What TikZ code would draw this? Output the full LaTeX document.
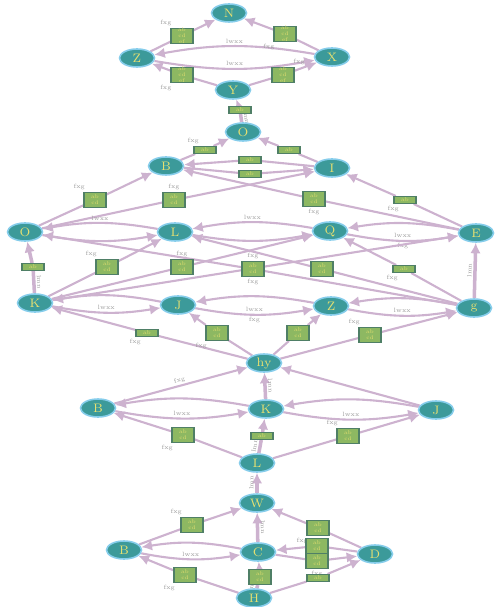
\documentclass[tikz,border=0pt]{standalone}
\usetikzlibrary{arrows.meta,shapes.geometric}
\definecolor{stfill}{HTML}{3C9A9A}
\definecolor{stline}{HTML}{86CDEB}
\definecolor{sttext}{HTML}{E6E070}
\definecolor{rlfill}{HTML}{8DB862}
\definecolor{rlline}{HTML}{4F7F66}
\definecolor{edcol}{HTML}{CDB2CF}
\definecolor{lbcol}{HTML}{9A9A9A}
\pgfdeclarelayer{edges}
\pgfsetlayers{edges,main}

\begin{document}
\begin{tikzpicture}[x=0.02cm,y=-0.02cm,
    state/.style ={ellipse, fill=stfill, draw=stline, line width=0.9pt, minimum width=0.7cm, minimum height=0.36cm, inner sep=0pt, text=sttext, font=\scriptsize},
    rule/.style ={rectangle, fill=rlfill, draw=rlline, line width=0.6pt, minimum width=0.44cm, minimum height=0.3cm, inner sep=0pt, text=sttext, font=\fontsize{3}{3.4}\selectfont, align=center},
    flat/.style ={rule, minimum height=0.14cm},
    edge/.style ={draw=edcol, line width=1.2pt, -{Latex[length=6pt,width=6pt]}},
    vedge/.style ={edge, line width=2pt},
    elbl/.style ={font=\fontsize{3.5}{4}\selectfont, text=lbcol, inner sep=1pt}]
   \useasboundingbox (0,0) rectangle (496,607);

   % states
   \node[state] (N1) at (229,13)  {N};
   \node[state] (NL) at (137,58)  {Z};
   \node[state] (NR) at (332,57)  {X};
   \node[state] (N4) at (233,90)  {Y};
   \node[state] (O)  at (243,132) {O};
   \node[state] (L)  at (166,166) {B};
   \node[state] (R)  at (332,168) {I};
   \node[state] (C1) at (25,232)  {O};
   \node[state] (C2) at (175,232) {L};
   \node[state] (C3) at (330,231) {Q};
   \node[state] (C4) at (476,233) {E};
   \node[state] (D1) at (35,303)  {K};
   \node[state] (D2) at (178,305) {J};
   \node[state] (D3) at (331,306) {Z};
   \node[state] (D4) at (474,308) {g};
   \node[state] (E)  at (264,363) {hy};
   \node[state] (F1) at (98,408)  {B};
   \node[state] (F2) at (266,409) {K};
   \node[state] (F3) at (436,410) {J};
   \node[state] (G)  at (257,463) {L};
   \node[state] (H)  at (257,503) {W};
   \node[state] (I1) at (124,550) {B};
   \node[state] (I2) at (258,552) {C};
   \node[state] (I3) at (375,554) {D};
   \node[state] (J)  at (254,598) {H};

   % rules
   \node[rule,label={[elbl]above left:fxg}]  (bNL1) at (182,36)  {ab\\cd\\ef};
   \node[rule,label={[elbl]below left:fxg}]  (bNR1) at (285,34)  {ab\\cd\\ef};
   \node[rule,label={[elbl]below left:fxg}]  (bN4L) at (182,75)  {ab\\cd\\ef};
   \node[rule,label={[elbl]above right:fxg}] (bN4R) at (283,75)  {ab\\cd\\ef};
   \node[flat] (bO)   at (240,110) {ab};
   \node[flat,label={[elbl]above left:fxg}]  (bLO)  at (205,150) {ab};
   \node[flat] (bRO)  at (289,150) {ab};
   \node[flat] (bRL)  at (250,160) {ab};
   \node[flat] (bLR)  at (250,174) {ab};
   \node[rule,label={[elbl]above left:fxg}]  (bC1L) at (95,200)  {ab\\cd};
   \node[rule,label={[elbl]above:fxg}]       (bC1R) at (174,200) {ab\\cd};
   \node[rule,label={[elbl]below:fxg}]       (bC4L) at (314,199) {ab\\cd};
   \node[flat,label={[elbl]below left:fxg}]  (bC4R) at (405,200) {ab};
   \node[flat] (bD1C1) at (33,267) {ab};
   \node[rule,label={[elbl]above left:fxg}]  (bD1C2) at (107,267) {ab\\cd};
   \node[rule,label={[elbl]above:fxg}]       (bD1C3) at (182,267) {ab\\cd};
   \node[rule,label={[elbl]above:fxg},label={[elbl]below:fxg}] (bX) at (253,269) {ab\\cd};
   \node[rule] (bD4C2) at (322,269) {ab\\cd};
   \node[flat,label={[elbl]below left:fxg}]  (bD4C3) at (404,269) {ab};
   \node[flat,label={[elbl]below left:fxg}]  (bED1) at (147,333) {ab};
   \node[rule,label={[elbl]below left:fxg}]  (bED2) at (217,333) {ab\\cd};
   \node[rule] (bED3) at (298,333) {ab\\cd};
   \node[rule,label={[elbl]above left:fxg}]  (bED4) at (370,335) {ab\\cd};
   \node[rule,label={[elbl]below left:fxg}]  (bGF1) at (183,435) {ab\\cd};
   \node[flat] (bGF2) at (262,436) {ab};
   \node[rule,label={[elbl]above left:fxg}]  (bGF3) at (348,436) {ab\\cd};
   \node[rule,label={[elbl]above left:fxg}]  (bI1H) at (192,525) {ab\\cd};
   \node[rule,label={[elbl]below left:fxg}]  (bI3H) at (318,528) {ab\\cd};
   \node[rule] (bI3I2) at (317,546) {ab\\cd};
   \node[rule,label={[elbl]below:fxg}]       (bI2I3) at (317,561) {ab\\cd};
   \node[rule,label={[elbl]below left:fxg}]  (bJI1) at (185,575) {ab\\cd};
   \node[rule] (bJI2) at (260,577) {ab\\cd};
   \node[flat] (bJI3) at (318,578) {ab};

   \begin{pgfonlayer}{edges}
   % top diamond
   \draw[edge] (NL) -- (bNL1) -- (N1);
   \draw[edge] (NR) -- (bNR1) -- (N1);
   \draw[edge] (N4) -- (bN4L) -- (NL);
   \draw[edge] (N4) -- (bN4R) -- (NR);
   \draw[edge] (NR) to[bend right=10] node[elbl,above]{lwxx} (NL);
   \draw[edge] (NL) to[bend right=10] node[elbl,above]{lwxx} (NR);
   \draw[vedge] (O) -- node[elbl,sloped,above]{lmn} (bO) -- (N4);

   \draw[edge] (L) -- (bLO) -- (O);
   \draw[edge] (R) -- (bRO) -- (O);
   \draw[edge] (R) -- (bRL) -- (L);
   \draw[edge] (L) -- (bLR) -- (R);

   \draw[edge] (C1) -- (bC1L) -- (L);
   \draw[edge] (C1) -- (bC1R) -- (R);
   \draw[edge] (C4) -- (bC4L) -- (L);
   \draw[edge] (C4) -- (bC4R) -- (R);

   \draw[edge] (C2) to[bend right=10] node[elbl,above]{lwxx} (C1);
   \draw[edge] (C1) to[bend right=10] (C2);
   \draw[edge] (C3) to[bend right=10] node[elbl,above]{lwxx} (C2);
   \draw[edge] (C2) to[bend right=10] (C3);
   \draw[edge] (C4) to[bend right=10] (C3);
   \draw[edge] (C3) to[bend right=10] node[elbl,above]{lwxx} node[elbl,below]{fxg} (C4);

   % second level
   \draw[vedge] (D1) -- node[elbl,sloped,above]{lmn} (bD1C1) -- (C1);
   \draw[vedge] (D4) -- node[elbl,sloped,above]{lmn} (C4);
   \draw[edge] (D1) -- (bD1C2) -- (C2);
   \draw[edge] (D1) -- (bD1C3) -- (C3);
   \draw[edge] (D1) -- (C4);
   \draw[edge] (D4) -- (bX) -- (C1);
   \draw[edge] (D4) -- (bD4C2) -- (C2);
   \draw[edge] (D4) -- (bD4C3) -- (C3);

   \draw[edge] (D2) to[bend right=10] (D1);
   \draw[edge] (D1) to[bend right=10] node[elbl,above]{lwxx} (D2);
   \draw[edge] (D3) to[bend right=10] (D2);
   \draw[edge] (D2) to[bend right=10] node[elbl,above]{lwxx} node[elbl,below]{fxg} (D3);
   \draw[edge] (D4) to[bend right=10] (D3);
   \draw[edge] (D3) to[bend right=10] node[elbl,above]{lwxx} (D4);

   \draw[edge] (E) -- (bED1) -- (D1);
   \draw[edge] (E) -- (bED2) -- (D2);
   \draw[edge] (E) -- (bED3) -- (D3);
   \draw[edge] (E) -- (bED4) -- (D4);

   % lower part
   \draw[edge] (F1) -- node[elbl,sloped,above]{fxg} (E);
   \draw[vedge] (F2) -- node[elbl,sloped,above]{lmn} (E);
   \draw[edge] (F3) -- (E);
   \draw[edge] (F2) to[bend right=10] (F1);
   \draw[edge] (F1) to[bend right=10] node[elbl,above]{lwxx} (F2);
   \draw[edge] (F3) to[bend right=10] (F2);
   \draw[edge] (F2) to[bend right=10] node[elbl,above]{lwxx} (F3);

   \draw[edge] (G) -- (bGF1) -- (F1);
   \draw[vedge] (G) -- node[elbl,sloped,above]{lmn} (bGF2) -- (F2);
   \draw[edge] (G) -- (bGF3) -- (F3);
   \draw[vedge] (H) -- node[elbl,sloped,above]{lmn} (G);

   \draw[vedge] (I2) -- node[elbl,sloped,above]{lmn} (H);
   \draw[edge] (I1) -- (bI1H) -- (H);
   \draw[edge] (I3) -- (bI3H) -- (H);
   \draw[edge] (I2) to[bend right=10] (I1);
   \draw[edge] (I1) to[bend right=10] node[elbl,above]{lwxx} (I2);
   \draw[edge] (I3) -- (bI3I2) -- (I2);
   \draw[edge] (I2) -- (bI2I3) -- (I3);

   \draw[edge] (J) -- (bJI1) -- (I1);
   \draw[vedge] (J) -- node[elbl,sloped,above]{lmn} (bJI2) -- (I2);
   \draw[edge] (J) -- (bJI3) -- (I3);
   \end{pgfonlayer}
 \end{tikzpicture}
\end{document}
